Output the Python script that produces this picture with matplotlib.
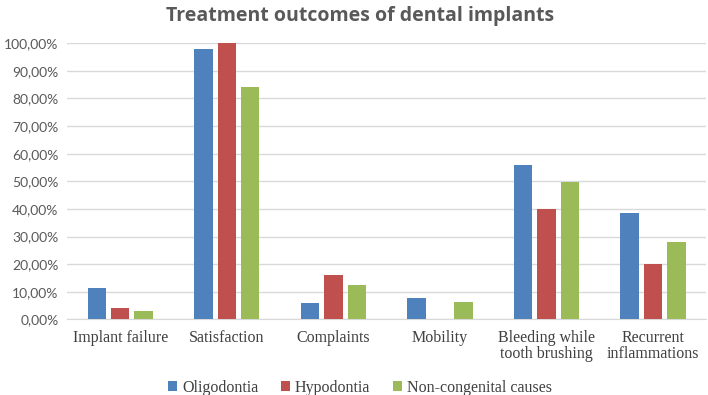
import numpy as np
import matplotlib.pyplot as plt
from matplotlib.ticker import FuncFormatter

categories = ["Implant failure", "Satisfaction", "Complaints", "Mobility",
              "Bleeding while\ntooth brushing", "Recurrent\ninflammations"]
oligodontia = [11.2, 97.9, 5.8, 7.7, 55.8, 38.4]
hypodontia = [4.0, 100.0, 16.1, 0.0, 40.0, 19.9]
non_congenital = [3.0, 84.2, 12.4, 6.2, 49.9, 28.0]

series = [("Oligodontia", oligodontia, "#4F81BD"),
          ("Hypodontia", hypodontia, "#C0504D"),
          ("Non-congenital causes", non_congenital, "#9BBB59")]

fig = plt.figure(figsize=(7.08, 3.95), dpi=100)
ax = fig.add_axes([0.0946, 0.1916, 0.903, 0.6988])

x = np.arange(len(categories))
width = 0.173
step = 0.22
for i, (name, vals, color) in enumerate(series):
    ax.bar(x + (i - 1) * step, vals, width, color=color, label=name, zorder=3)

ax.set_ylim(0, 100)
ax.set_xlim(-0.5, len(categories) - 0.5)
ax.set_yticks(np.arange(0, 101, 10))
ax.yaxis.set_major_formatter(FuncFormatter(lambda v, p: f"{v:.2f}%".replace(".", ",")))
ax.grid(axis="y", color="#d9d9d9", linewidth=1, zorder=0)
for s in ["top", "right", "left"]:
    ax.spines[s].set_visible(False)
ax.spines["bottom"].set_color("#d9d9d9")
ax.tick_params(axis="both", length=0)
ax.tick_params(axis="y", labelsize=10, labelcolor="#595959", pad=6)
for lbl in ax.get_yticklabels():
    lbl.set_family("Lato")
ax.set_xticks(x)
ax.set_xticklabels(categories, family="Liberation Serif", fontsize=11.5,
                   color="#404040", linespacing=1.0)
ax.tick_params(axis="x", pad=8)

fig.suptitle("Treatment outcomes of dental implants", x=0.508, y=0.985,
             fontsize=14, fontweight="bold", color="#595959", family="Open Sans")

ax.legend(loc="lower center", bbox_to_anchor=(0.458, -0.33), ncol=3, frameon=False,
          prop={"family": "Liberation Serif", "size": 11.5}, handlelength=0.6,
          handleheight=0.6, handletextpad=0.3, columnspacing=1.4, labelcolor="#404040")

fig.savefig("out.png", dpi=100)
